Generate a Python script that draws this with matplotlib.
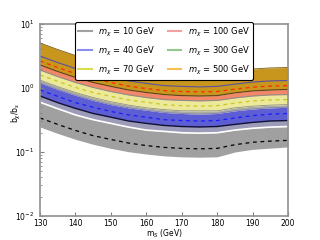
import matplotlib
matplotlib.use("Agg")
import matplotlib.pyplot as plt
from matplotlib.lines import Line2D

m_S = [130, 135, 140, 145, 150, 155, 160, 165, 170, 175, 180, 185, 190, 195, 200]

# curves (b_chi/b_s)
gold_top   = [5.05, 3.99, 3.22, 2.69, 2.33, 2.06, 1.88, 1.75, 1.69, 1.66, 1.69, 1.84, 1.98, 2.06, 2.09]
blue_thin  = [3.16, 2.50, 2.02, 1.68, 1.46, 1.29, 1.18, 1.09, 1.06, 1.04, 1.06, 1.15, 1.24, 1.29, 1.31]
red_med    = [2.64, 2.09, 1.68, 1.41, 1.22, 1.07, 0.98, 0.91, 0.88, 0.87, 0.88, 0.96, 1.03, 1.07, 1.09]
gold_bot   = [2.29, 1.81, 1.46, 1.22, 1.06, 0.93, 0.85, 0.79, 0.76, 0.75, 0.76, 0.84, 0.90, 0.93, 0.95]
salmon_bot = [1.91, 1.51, 1.22, 1.02, 0.88, 0.78, 0.71, 0.66, 0.64, 0.63, 0.64, 0.70, 0.75, 0.78, 0.79]
yellow_med = [1.60, 1.27, 1.02, 0.85, 0.74, 0.65, 0.60, 0.55, 0.53, 0.52, 0.53, 0.58, 0.63, 0.65, 0.66]
yellow_bot = [1.33, 1.05, 0.85, 0.71, 0.61, 0.54, 0.49, 0.46, 0.44, 0.44, 0.44, 0.49, 0.52, 0.54, 0.55]
blue_top   = [1.20, 0.95, 0.77, 0.64, 0.55, 0.49, 0.45, 0.415, 0.40, 0.39, 0.40, 0.44, 0.47, 0.49, 0.50]
blue_med   = [0.93, 0.74, 0.59, 0.50, 0.43, 0.38, 0.35, 0.32, 0.31, 0.305, 0.31, 0.34, 0.37, 0.39, 0.40]
black_obs  = [0.75, 0.59, 0.48, 0.40, 0.35, 0.305, 0.28, 0.26, 0.25, 0.246, 0.25, 0.27, 0.29, 0.305, 0.31]
white_line = [0.60, 0.475, 0.38, 0.32, 0.28, 0.245, 0.22, 0.21, 0.20, 0.197, 0.20, 0.22, 0.235, 0.245, 0.25]
gray_med   = [0.34, 0.27, 0.217, 0.18, 0.157, 0.138, 0.126, 0.118, 0.114, 0.112, 0.114, 0.13, 0.142, 0.148, 0.152]
gray_bot   = [0.246, 0.195, 0.158, 0.132, 0.114, 0.101, 0.093, 0.087, 0.084, 0.083, 0.084, 0.10, 0.11, 0.115, 0.12]

legend_labels = [r"$m_\chi$ = 10 GeV", r"$m_\chi$ = 40 GeV", r"$m_\chi$ = 70 GeV",
                 r"$m_\chi$ = 100 GeV", r"$m_\chi$ = 300 GeV", r"$m_\chi$ = 500 GeV"]
legend_colors = ["#a0a0a0", "#8c8cf0", "#dcdc50", "#f4a0a0", "#90c890", "#f8c050"]

fig = plt.figure(figsize=(3.2, 2.4), dpi=100)
ax = fig.add_axes([0.125, 0.1, 0.775, 0.8])

x = m_S
ax.fill_between(x, gray_bot, white_line, color="#a0a0a0", lw=0)
ax.fill_between(x, white_line, black_obs, color="#9c9cb8", lw=0)
ax.fill_between(x, black_obs, blue_top, color="#5e5ed4", lw=0)
ax.fill_between(x, blue_top, yellow_bot, color="#ababa0", lw=0)
ax.fill_between(x, yellow_bot, salmon_bot, color="#ece99a", lw=0)
ax.fill_between(x, salmon_bot, gold_bot, color="#f2876a", lw=0)
ax.fill_between(x, gold_bot, gold_top, color="#c8961c", lw=0)

ax.plot(x, gold_top, color="#7a5a10", lw=0.6)
ax.plot(x, blue_thin, color="#5a50a0", lw=0.8)
ax.plot(x, red_med, color="#ff2a00", lw=0.9, ls="--", dashes=(3, 3))
ax.plot(x, gold_bot, color="#604020", lw=0.8)
ax.plot(x, salmon_bot, color="#909080", lw=0.8)
ax.plot(x, yellow_med, color="#c8c820", lw=0.9, ls="--", dashes=(3, 3))
ax.plot(x, yellow_bot, color="#909088", lw=0.6)
ax.plot(x, blue_top, color="#8080c0", lw=0.6)
ax.plot(x, blue_med, color="#1a1aff", lw=0.9, ls="--", dashes=(3, 3))
ax.plot(x, black_obs, color="#101030", lw=1.0)
ax.plot(x, white_line, color="white", lw=1.2)
ax.plot(x, gray_med, color="black", lw=0.9, ls="--", dashes=(3, 3))

ax.set_yscale("log")
ax.set_xlim(130, 200)
ax.set_ylim(1e-2, 1e1)
ax.set_xticks([130, 140, 150, 160, 170, 180, 190, 200])
ax.tick_params(axis="both", which="both", direction="in", labelsize=5.5, colors="#808080",
               labelcolor="black")
ax.tick_params(axis="x", pad=2.5)
ax.tick_params(axis="y", pad=4)
ax.tick_params(which="major", length=3)
ax.tick_params(which="minor", length=1.5)
for s in ax.spines.values():
    s.set_color("#909090")
    s.set_linewidth(1.2)

ax.set_xlabel(r"m$_S$ (GeV)", fontsize=5.5)
ax.xaxis.set_label_coords(0.5, -0.058)
ax.set_ylabel(r"b$_\chi$/b$_s$", fontsize=5.5)
ax.yaxis.set_label_coords(-0.07, 0.54)

handles = [Line2D([0], [0], color=c, lw=1.5) for c in legend_colors]
leg = ax.legend(handles, legend_labels, loc="upper center", bbox_to_anchor=(0.5, 1.03),
                ncol=2, fontsize=6, handlelength=1.6, frameon=True, fancybox=True,
                framealpha=1, edgecolor="black", columnspacing=1.5, labelspacing=0.7)
leg.get_frame().set_linewidth(0.8)

fig.savefig("out.png", dpi=100)
